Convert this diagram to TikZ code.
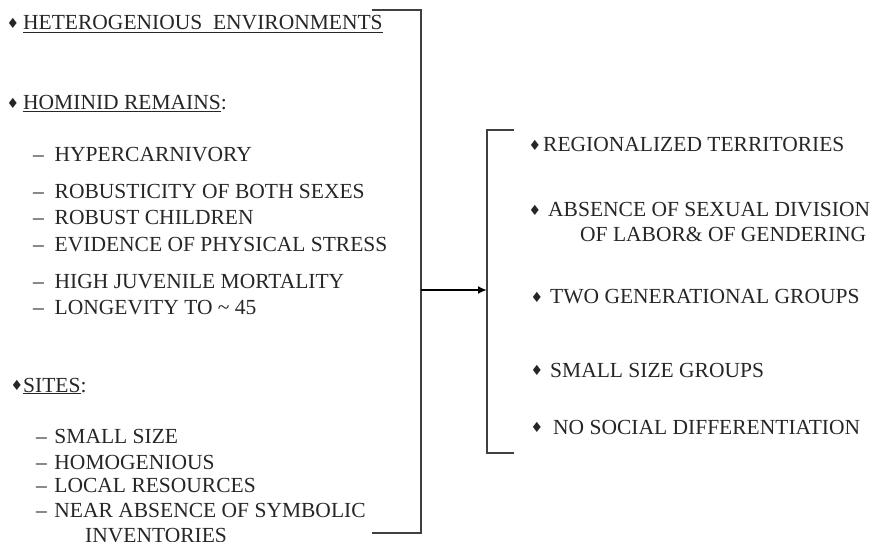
\documentclass[tikz,border=0pt]{standalone}
\usepackage{fontspec}
\setmainfont{Liberation Serif}
\newfontfamily\txtfont{Liberation Serif}
\newfontfamily\djv{DejaVu Sans}
\usetikzlibrary{arrows.meta}
\begin{document}
\begin{tikzpicture}[x=1bp,y=-1bp,
  txt/.style={anchor=base west,inner sep=0pt,font=\txtfont\fontsize{21.5bp}{24bp}\selectfont,text=black!85},
  dia/.style={anchor=center,inner sep=0pt,font=\djv\fontsize{14bp}{14bp}\selectfont,text=black!85},
  brk/.style={draw=black!75,line width=1.3bp},
  arr/.style={draw=black,line width=2bp,-{Latex[length=9bp,width=8bp]}}]
\useasboundingbox (0,0) rectangle (871,542);
% left column
\node[dia] (d1) at (13,23) {♦};
\node[txt] (h1) at (23,30) {\underline{HETEROGENIOUS\ \ ENVIRONMENTS}};
\node[dia] (d2) at (13,103) {♦};
\node[txt] (h2) at (23,110) {\underline{HOMINID REMAINS}:};
\node[txt] (a1) at (33,162) {–\hspace{0.5em}HYPERCARNIVORY};
\node[txt] (a2) at (33,199) {–\hspace{0.5em}ROBUSTICITY OF BOTH SEXES};
\node[txt] (a3) at (33,225) {–\hspace{0.5em}ROBUST CHILDREN};
\node[txt] (a4) at (33,252) {–\hspace{0.5em}EVIDENCE OF PHYSICAL STRESS};
\node[txt] (a5) at (33,289) {–\hspace{0.5em}HIGH JUVENILE MORTALITY};
\node[txt] (a6) at (33,315) {–\hspace{0.5em}LONGEVITY TO \char"7E\ 45};
\node[dia] (d3) at (17,385) {♦};
\node[txt] (h3) at (23,392) {\underline{SITES}:};
\node[txt] (b1) at (36,443) {–\hspace{0.35em}SMALL SIZE};
\node[txt] (b2) at (36,469) {–\hspace{0.35em}HOMOGENIOUS};
\node[txt] (b3) at (36,492) {–\hspace{0.35em}LOCAL RESOURCES};
\node[txt] (b4) at (36,517) {–\hspace{0.35em}NEAR ABSENCE OF SYMBOLIC};
\node[txt] (b5) at (85,542) {INVENTORIES};
% right column
\node[dia] (r1d) at (535,145) {♦};
\node[txt] (r1) at (543,152) {REGIONALIZED TERRITORIES};
\node[dia] (r2d) at (535,210) {♦};
\node[txt] (r2) at (548,217) {ABSENCE OF SEXUAL DIVISION};
\node[txt] (r2b) at (580,242) {OF LABOR\& OF GENDERING};
\node[dia] (r3d) at (537,297) {♦};
\node[txt] (r3) at (550,304) {TWO GENERATIONAL GROUPS};
\node[dia] (r4d) at (537,370) {♦};
\node[txt] (r4) at (550,377) {SMALL SIZE GROUPS};
\node[dia] (r5d) at (537,427) {♦};
\node[txt] (r5) at (553,434) {NO SOCIAL DIFFERENTIATION};
% brackets
\coordinate (lt) at (372,10);
\coordinate (ltc) at (421,10);
\coordinate (lbc) at (421,533);
\coordinate (lb) at (372,533);
\coordinate (lm) at (421,290);
\coordinate (rt) at (514,130);
\coordinate (rtc) at (487,130);
\coordinate (rbc) at (487,453);
\coordinate (rb) at (514,453);
\coordinate (rm) at (487,290);
\draw[brk] (lt) -- (ltc) -- (lbc) -- (lb);
\draw[brk] (rt) -- (rtc) -- (rbc) -- (rb);
\draw[arr] (lm) -- (rm);
\end{tikzpicture}
\end{document}
